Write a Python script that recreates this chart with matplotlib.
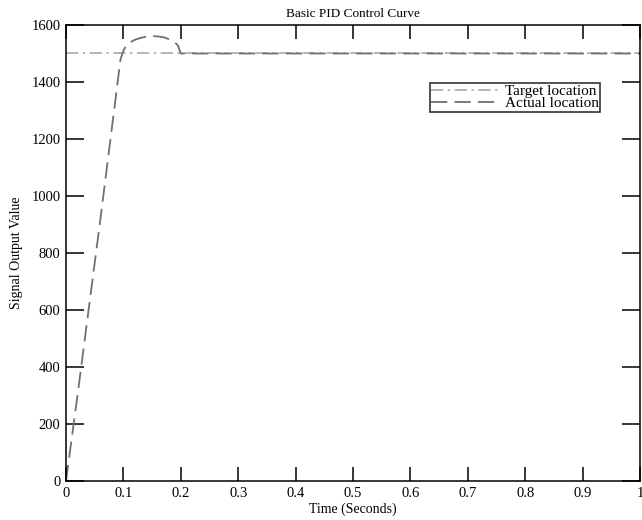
import numpy as np
import matplotlib.pyplot as plt

plt.rcParams['font.family'] = ['Liberation Serif', 'DejaVu Serif']

# time points and values
target_t = [0.0, 1.0]
target_y = [1500, 1500]

actual_t = [0, 0.02, 0.04, 0.06, 0.08, 0.095, 0.1, 0.105, 0.11, 0.12, 0.13,
            0.14, 0.15, 0.16, 0.17, 0.18, 0.19, 0.195, 0.2, 0.21, 1.0]
actual_y = [0, 300, 610, 920, 1240, 1480, 1510, 1528, 1537, 1548, 1555,
            1559, 1561, 1560, 1557, 1550, 1538, 1528, 1500, 1500, 1500]

xticks = np.arange(0, 1.01, 0.1)
xtick_labels = ['0', '0.1', '0.2', '0.3', '0.4', '0.5', '0.6', '0.7', '0.8', '0.9', '1']
yticks = np.arange(0, 1601, 200)


def main():
    fig = plt.figure(figsize=(6.42, 5.2), dpi=100)
    ax = fig.add_axes([66 / 642, 39 / 520, 574 / 642, 456 / 520])

    ax.plot(target_t, target_y, linestyle=(0, (8, 3, 1.5, 3)), color='#a0a0a0',
            linewidth=1.1, label='Target location')
    ax.plot(actual_t, actual_y, linestyle=(0, (9, 4)), color='#707070',
            linewidth=1.3, label='Actual location')

    ax.set_xlim(0, 1)
    ax.set_ylim(0, 1600)
    ax.set_xticks(xticks)
    ax.set_xticklabels(xtick_labels)
    ax.set_yticks(yticks)
    ax.tick_params(direction='in', top=True, right=True, labelsize=10.5,
                   width=1.1, pad=4)
    ax.tick_params(axis='x', length=10)
    ax.tick_params(axis='y', length=13)
    for s in ax.spines.values():
        s.set_linewidth(1.1)

    ax.set_title('Basic PID Control Curve', fontsize=9.5, pad=6)
    ax.set_xlabel('Time (Seconds)', fontsize=10, labelpad=2)
    ax.set_ylabel('Signal Output Value', fontsize=10, labelpad=6)

    leg = ax.legend(loc='upper left', bbox_to_anchor=(0.634, 0.873), fontsize=11,
                    frameon=True, fancybox=False, borderpad=0.1, labelspacing=-0.1,
                    handlelength=4.5, handletextpad=0.3, borderaxespad=0)
    leg.get_frame().set_edgecolor('black')
    leg.get_frame().set_linewidth(1.2)

    fig.savefig('out.png', dpi=100)


if __name__ == '__main__':
    main()
